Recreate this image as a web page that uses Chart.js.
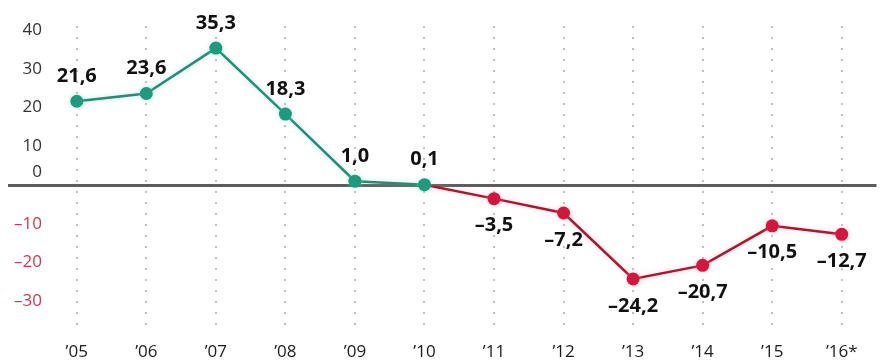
<!DOCTYPE html>
<html lang="en">
<head>
    <meta charset="UTF-8">
    <title>Balance</title>
    <script src="https://cdn.jsdelivr.net/npm/chart.js"></script>
    <style>
        body { margin: 0; background: #fff; }
    </style>
</head>
<body>
<canvas id="lineChart" width="883" height="360"></canvas>

<script>
    // data
    const years = ['\u201905', '\u201906', '\u201907', '\u201908', '\u201909', '\u201910',
                   '\u201911', '\u201912', '\u201913', '\u201914', '\u201915', '\u201916*'];
    const values = [21.6, 23.6, 35.3, 18.3, 1.0, 0.1, -3.5, -7.2, -24.2, -20.7, -10.5, -12.7];
    const yTickValues = [-30, -20, -10, 0, 10, 20, 30, 40];

    const ZERO_LABEL_LIFT = 3.2;   // "0" label sits above the zero line
    const TEAL = '#1f9a7b', TEAL_LINE = '#2a8a73';
    const RED = '#d1173b', RED_LINE = '#a8182f';

    // green part runs until the last non-negative value, red part takes over from there
    let lastPos = 0;
    values.forEach((v, i) => { if (v >= 0) lastPos = i; });
    const posData = values.map((v, i) => i <= lastPos ? v : null);
    const negData = values.map((v, i) => i >= lastPos ? v : null);

    function fmt(v) {
        return (v < 0 ? '\u2013' : '') + Math.abs(v).toFixed(1).replace('.', ',');
    }

    // soft halo round the lines
    const glowPlugin = {
        id: 'glow',
        beforeDatasetDraw(chart, args) {
            const ctx = chart.ctx;
            ctx.save();
            ctx.shadowColor = args.index === 0 ? 'rgba(120,230,205,0.55)' : 'rgba(255,160,180,0.55)';
            ctx.shadowBlur = 5;
        },
        afterDatasetDraw(chart) {
            chart.ctx.restore();
        }
    };

    // value labels above / below the points
    const valueLabels = {
        id: 'valueLabels',
        afterDatasetsDraw(chart) {
            const ctx = chart.ctx;
            const posMeta = chart.getDatasetMeta(0);
            const negMeta = chart.getDatasetMeta(1);
            ctx.save();
            ctx.font = 'bold 20px "Open Sans"';
            ctx.fillStyle = '#111';
            ctx.textAlign = 'center';
            ctx.textBaseline = 'middle';
            values.forEach((v, i) => {
                const pt = (i <= lastPos ? posMeta : negMeta).data[i];
                const dy = v >= 0 ? -25 : 27;
                ctx.fillText(fmt(v), pt.x, pt.y + dy);
            });
            ctx.restore();
        }
    };

    Chart.defaults.font.family = '"Open Sans", sans-serif';

    new Chart(document.getElementById('lineChart'), {
        type: 'line',
        data: {
            labels: years,
            datasets: [{
                data: posData,
                borderColor: TEAL_LINE,
                backgroundColor: TEAL,
                borderWidth: 2.5,
                pointRadius: 6.5,
                pointBorderWidth: 0,
                pointBackgroundColor: TEAL
            }, {
                data: negData,
                borderColor: RED_LINE,
                backgroundColor: RED,
                borderWidth: 2.5,
                pointRadius: ctx => ctx.dataIndex === lastPos ? 0 : 6.5,
                pointBorderWidth: 0,
                pointBackgroundColor: RED
            }]
        },
        options: {
            responsive: false,
            animation: false,
            layout: { padding: { left: 8, right: 0, top: 26, bottom: -16 } },
            plugins: {
                legend: { display: false },
                tooltip: { enabled: false }
            },
            scales: {
                x: {
                    offset: true,
                    border: { display: false, dash: [2, 9] },
                    grid: {
                        offset: false,
                        drawTicks: false,
                        color: 'rgba(140,140,140,0.55)',
                        lineWidth: 2
                    },
                    ticks: {
                        padding: 13.5,
                        color: '#1a1a1a',
                        font: { size: 17 },
                        maxRotation: 0,
                        autoSkip: false
                    }
                },
                y: {
                    min: -37,
                    max: 41,
                    border: { display: false },
                    afterBuildTicks(scale) {
                        const t = yTickValues.concat([ZERO_LABEL_LIFT]).sort((a, b) => a - b);
                        scale.ticks = t.map(v => ({ value: v }));
                    },
                    afterFit(scale) { scale.width = 34; },
                    grid: {
                        drawTicks: true,
                        tickLength: 34,
                        color: ctx => ctx.tick && ctx.tick.value === 0 ? '#5d5d5d' : 'rgba(0,0,0,0)',
                        lineWidth: ctx => ctx.tick && ctx.tick.value === 0 ? 3 : 0
                    },
                    ticks: {
                        autoSkip: false,
                        crossAlign: 'near',
                        padding: -34,
                        font: { size: 17 },
                        color: ctx => ctx.tick && ctx.tick.value < 0 ? '#c73a55' : '#333',
                        callback: v => {
                            if (v === 0) return '';
                            if (v === ZERO_LABEL_LIFT) return '0';
                            return (v < 0 ? '\u2013' : '') + Math.abs(v);
                        }
                    }
                }
            }
        },
        plugins: [glowPlugin, valueLabels]
    });
</script>
</body>
</html>
